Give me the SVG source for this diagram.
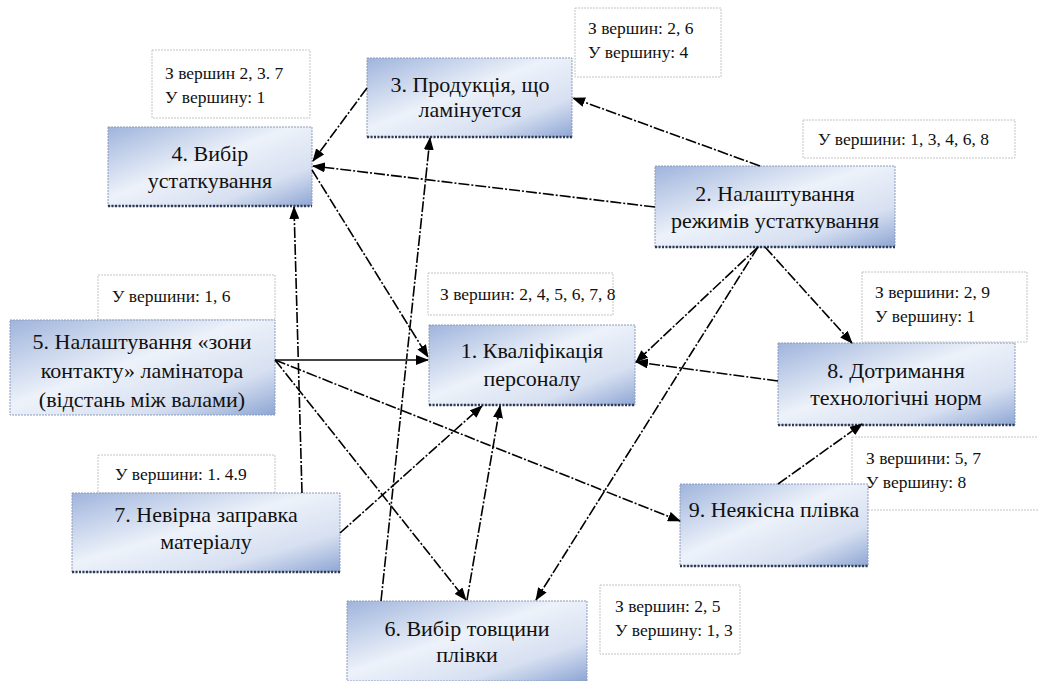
<svg xmlns="http://www.w3.org/2000/svg" width="1038" height="681" viewBox="0 0 1038 681">
<defs>
<linearGradient id="g" x1="0" y1="0" x2="1" y2="1">
<stop offset="0" stop-color="#9fb4dc"/>
<stop offset="0.45" stop-color="#edf2fa"/>
<stop offset="0.75" stop-color="#d7e0f1"/>
<stop offset="1" stop-color="#8ea6d4"/>
</linearGradient>
<marker id="ah" markerUnits="userSpaceOnUse" markerWidth="13" markerHeight="10" refX="12" refY="5" orient="auto">
<path d="M0,0 L13,5 L0,10 z" fill="#000"/>
</marker>
<style>
.node{fill:url(#g);stroke:#8d9cbc;stroke-width:1;stroke-dasharray:2 1}
.sh{stroke:#2f3a55;stroke-width:2.5;stroke-dasharray:2 1.5}
.lab{fill:#fff;stroke:#c4c4c4;stroke-width:1;stroke-dasharray:2 1}
.nt{font-family:"Liberation Serif",serif;font-size:22px;fill:#111;text-anchor:middle}
.lt{font-family:"Liberation Serif",serif;font-size:17.5px;fill:#111}
.c{fill:none;stroke:#000;stroke-width:1.6;stroke-dasharray:11 2 2 2;marker-end:url(#ah)}
.s{fill:none;stroke:#444;stroke-width:1.8;marker-end:url(#ah)}
</style>
</defs>
<rect width="1038" height="681" fill="#fff"/>

<g id="labels">
<g id="lab4"><rect class="lab" x="152" y="50" width="158" height="68"/><text class="lt" x="165" y="79">З вершин 2, 3. 7</text><text class="lt" x="165" y="103">У вершину: 1</text></g>
<g id="lab3"><rect class="lab" x="575" y="8" width="146" height="69"/><text class="lt" x="588" y="34">З вершин: 2, 6</text><text class="lt" x="588" y="58">У вершину: 4</text></g>
<g id="lab2"><rect class="lab" x="803" y="120" width="212" height="38"/><text class="lt" x="818" y="145">У вершини: 1, 3, 4, 6, 8</text></g>
<g id="lab5"><rect class="lab" x="98" y="275" width="177" height="45"/><text class="lt" x="112" y="302">У вершини: 1, 6</text></g>
<g id="lab1"><rect class="lab" x="428" y="273" width="185" height="42"/><text class="lt" x="440" y="300">З вершин: 2, 4, 5, 6, 7, 8</text></g>
<g id="lab8"><rect class="lab" x="862" y="272" width="165" height="70"/><text class="lt" x="875" y="298">З вершини: 2, 9</text><text class="lt" x="875" y="322">У вершину: 1</text></g>
<g id="lab7"><rect class="lab" x="98" y="455" width="177" height="38"/><text class="lt" x="115" y="480">У вершини: 1. 4.9</text></g>
<g id="lab9"><rect class="lab" x="852" y="437" width="190" height="73"/><text class="lt" x="866" y="464">З вершини: 5, 7</text><text class="lt" x="866" y="488">У вершину: 8</text></g>
<g id="lab6"><rect class="lab" x="600" y="585" width="140" height="69"/><text class="lt" x="615" y="612">З вершин: 2, 5</text><text class="lt" x="615" y="636">У вершину: 1, 3</text></g>
</g>

<g id="node3"><rect class="node" x="367" y="58" width="205" height="79"/><line class="sh" x1="367" y1="137" x2="572" y2="137"/><text class="nt" x="470" y="92">3. Продукція, що</text><text class="nt" x="470" y="117">ламінуется</text></g>
<g id="node4"><rect class="node" x="108" y="127" width="204" height="79"/><line class="sh" x1="108" y1="206" x2="312" y2="206"/><text class="nt" x="210" y="161">4. Вибір</text><text class="nt" x="210" y="188">устаткування</text></g>
<g id="node2"><rect class="node" x="655" y="166" width="240" height="81"/><line class="sh" x1="655" y1="247" x2="895" y2="247"/><text class="nt" x="775" y="201">2. Налаштування</text><text class="nt" x="775" y="228">режимів устаткування</text></g>
<g id="node5"><rect class="node" x="10" y="320" width="265" height="95"/><text class="nt" x="142" y="349">5. Налаштування «зони</text><text class="nt" x="142" y="378">контакту» ламінатора</text><text class="nt" x="142" y="407">(відстань між валами)</text></g>
<g id="node1"><rect class="node" x="429" y="325" width="206" height="80"/><line class="sh" x1="429" y1="405" x2="635" y2="405"/><text class="nt" x="532" y="358">1. Кваліфікація</text><text class="nt" x="532" y="386">персоналу</text></g>
<g id="node8"><rect class="node" x="778" y="343" width="237" height="82"/><line class="sh" x1="778" y1="425" x2="1015" y2="425"/><text class="nt" x="896" y="378">8. Дотримання</text><text class="nt" x="896" y="405">технологічні норм</text></g>
<g id="node7"><rect class="node" x="72" y="493" width="268" height="79"/><line class="sh" x1="72" y1="572" x2="340" y2="572"/><text class="nt" x="206" y="522">7. Невірна заправка</text><text class="nt" x="206" y="549">матеріалу</text></g>
<g id="node9"><rect class="node" x="680" y="484" width="188" height="82"/><line class="sh" x1="680" y1="566" x2="868" y2="566"/><text class="nt" x="774" y="517">9.  Неякісна плівка</text></g>
<g id="node6"><rect class="node" x="347" y="601" width="240" height="80"/><text class="nt" x="467" y="636">6. Вибір товщини</text><text class="nt" x="467" y="662">плівки</text></g>

<g id="connectors">
<path class="c" d="M367,88 L313,161"/>
<path class="c" d="M760,166 L573,98"/>
<path class="c" d="M655,207 L313,166"/>
<path class="c" d="M312,170 L428,357"/>
<path class="c" d="M302,493 L294,207"/>
<path class="c" d="M381,601 L430,138"/>
<path class="s" d="M275,360 L428,360"/>
<path class="c" d="M275,360 L466,600"/>
<path class="c" d="M275,360 L680,521"/>
<path class="c" d="M340,533 L482,406"/>
<path class="c" d="M467,600 L500,406"/>
<path class="c" d="M758,247 L636,362"/>
<path class="c" d="M778,381 L636,362"/>
<path class="c" d="M758,247 L536,600"/>
<path class="c" d="M765,247 L852,343"/>
<path class="c" d="M778,484 L862,424"/>
</g>
</svg>
